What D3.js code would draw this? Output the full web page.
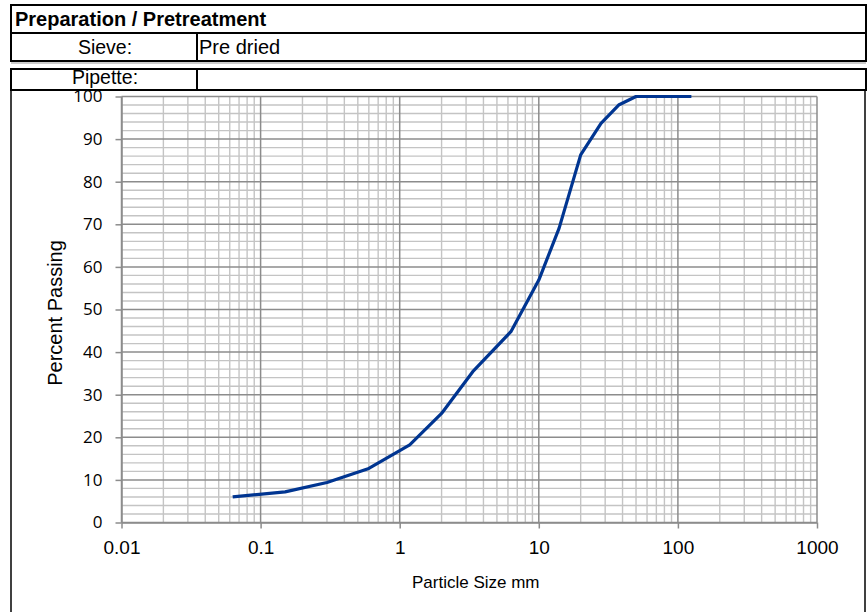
<!DOCTYPE html>
<html><head><meta charset="utf-8">
<script src="https://cdn.jsdelivr.net/npm/d3@7"></script>
<style>body{margin:0;background:#fff}svg{display:block}</style>
</head><body><svg id="c" width="868" height="612"></svg>
<script>
// ---- data ----
const sizes = [0.063, 0.15, 0.3, 0.6, 1.18, 2, 3.35, 6.3, 10, 14, 20, 28, 37.5, 50, 63, 75, 125];
const passing = [6.0, 7.2, 9.4, 12.7, 18.2, 25.6, 35.4, 44.8, 56.9, 69.1, 86.3, 93.7, 98.0, 100, 100, 100, 100];
const xTicks = [0.01, 0.1, 1, 10, 100, 1000];
const xTickLabels = ["0.01", "0.1", "1", "10", "100", "1000"];
const yTicks = [0, 10, 20, 30, 40, 50, 60, 70, 80, 90, 100];
const headerTitle = "Preparation / Pretreatment";
const rowLabels = ["Sieve:", "Pipette:"];
const rowValues = ["Pre dried", ""];
const xTitle = "Particle Size mm";
const yTitle = "Percent Passing";

// ---- layout ----
const svg = d3.select("#c");
const x = d3.scaleLog().domain([0.01, 1000]).range([121.5, 817]);
const y = d3.scaleLinear().domain([0, 100]).range([522.5, 96.5]);

const minorX = [];
for (let d = 0.01; d < 999; d *= 10) for (let k = 2; k <= 9; k++) minorX.push(+(d * k).toPrecision(3));
const minorY = d3.range(0, 101, 2).filter(v => v % 10 !== 0);

const grid = svg.append("g");
grid.selectAll(".mx").data(minorX).join("line")
  .attr("x1", d => x(d)).attr("x2", d => x(d)).attr("y1", y(0)).attr("y2", y(100))
  .attr("stroke", "#c4c4c4").attr("stroke-width", 1.4);
grid.selectAll(".my").data(minorY).join("line")
  .attr("x1", x(0.01)).attr("x2", x(1000)).attr("y1", d => y(d)).attr("y2", d => y(d))
  .attr("stroke", "#c4c4c4").attr("stroke-width", 1.4);
grid.selectAll(".Mx").data(xTicks).join("line")
  .attr("x1", d => x(d)).attr("x2", d => x(d)).attr("y1", y(0)).attr("y2", y(100))
  .attr("stroke", "#8c8c8c").attr("stroke-width", 1.5);
grid.selectAll(".My").data(yTicks).join("line")
  .attr("x1", x(0.01)).attr("x2", x(1000)).attr("y1", d => y(d)).attr("y2", d => y(d))
  .attr("stroke", "#8c8c8c").attr("stroke-width", 1.5);

// axes
const yAxis = svg.append("g").attr("transform", `translate(${x(0.01)},0)`)
  .call(d3.axisLeft(y).tickValues(yTicks).tickSize(6).tickSizeOuter(0).tickPadding(13));
const xAxis = svg.append("g").attr("transform", `translate(0,${y(0)})`)
  .call(d3.axisBottom(x).tickValues(xTicks).tickFormat((d, i) => xTickLabels[i]).tickSize(6).tickSizeOuter(0).tickPadding(12));
[yAxis, xAxis].forEach(a => {
  a.select(".domain").attr("stroke", "#8c8c8c").attr("stroke-width", 1.5);
  a.selectAll(".tick line").attr("stroke", "#8c8c8c").attr("stroke-width", 1.5);
});
yAxis.selectAll("text").attr("font-family", "'Open Sans', sans-serif").attr("font-size", 17).attr("fill", "#000");
xAxis.selectAll("text").attr("font-family", "'Liberation Sans', Arial, sans-serif").attr("font-size", 19).attr("fill", "#000");

// curve
const pts = sizes.map((s, i) => [s, passing[i]]);
svg.append("path").datum(pts)
  .attr("d", d3.line().x(d => x(d[0])).y(d => y(d[1])))
  .attr("fill", "none").attr("stroke", "#003591").attr("stroke-width", 3.2)
  .attr("stroke-linejoin", "round");

// titles
svg.append("text").attr("x", 412).attr("y", 588).text(xTitle)
  .attr("font-family", "'Liberation Sans', Arial, sans-serif").attr("font-size", 17);
svg.append("text").attr("transform", "translate(62,313) rotate(-90)").attr("text-anchor", "middle").text(yTitle)
  .attr("font-family", "'Liberation Sans', Arial, sans-serif").attr("font-size", 20);

// ---- header table ----
const hdr = svg.append("g").attr("fill", "none").attr("stroke", "#000").attr("stroke-width", 2);
hdr.append("rect").attr("x", 11).attr("y", 5).attr("width", 855).attr("height", 28);
hdr.append("rect").attr("x", 11).attr("y", 33).attr("width", 855).attr("height", 28);
hdr.append("line").attr("x1", 11).attr("x2", 866).attr("y1", 63).attr("y2", 63).attr("stroke", "#999").attr("stroke-width", 1);
hdr.append("rect").attr("x", 11).attr("y", 69).attr("width", 855).attr("height", 21);
hdr.append("line").attr("x1", 197).attr("x2", 197).attr("y1", 33).attr("y2", 61);
hdr.append("line").attr("x1", 197).attr("x2", 197).attr("y1", 69).attr("y2", 90);
// chart frame
hdr.append("line").attr("x1", 11).attr("x2", 11).attr("y1", 90).attr("y2", 612).attr("stroke-width", 1.5);
hdr.append("line").attr("x1", 865).attr("x2", 865).attr("y1", 90).attr("y2", 612).attr("stroke-width", 1.5);

const tf = "'Liberation Sans', Arial, sans-serif";
svg.append("text").attr("x", 15).attr("y", 26).text(headerTitle)
  .attr("font-family", tf).attr("font-weight", "bold").attr("font-size", 20);
const rowBase = [54, 84];
rowLabels.forEach((t, i) => {
  svg.append("text").attr("x", 105).attr("y", rowBase[i]).attr("text-anchor", "middle").text(t)
    .attr("font-family", tf).attr("font-size", 19.5);
  svg.append("text").attr("x", 199).attr("y", rowBase[i]).text(rowValues[i])
    .attr("font-family", tf).attr("font-size", 20);
});
</script></body></html>
